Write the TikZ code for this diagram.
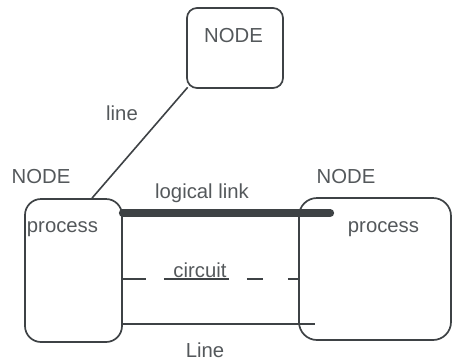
\documentclass[tikz,border=0pt]{standalone}
\usepackage{fontspec}
\setmainfont{Liberation Sans}
\usetikzlibrary{calc}
\definecolor{inkline}{HTML}{3E4245}
\definecolor{inktext}{HTML}{54585B}
\begin{document}
\begin{tikzpicture}[x=1pt,y=-1pt,
  every node/.style={font=\fontsize{20.3}{24}\selectfont},
  box/.style={draw=inkline,line width=1.7pt,inner sep=0pt,rectangle},
  lbl/.style={text=inktext,inner sep=0pt,anchor=base},
  wire/.style={draw=inkline,line width=1.6pt},
  thick link/.style={draw=inkline,line width=8pt,line cap=round}]
\useasboundingbox (0,0) rectangle (453,360);
% the three nodes
\node[box,rounded corners=10pt,minimum width=96pt,minimum height=80pt] (top) at (235,48) {};
\node[box,rounded corners=16pt,minimum width=97pt,minimum height=143pt] (left) at (73.5,270.5) {};
\node[box,rounded corners=18pt,minimum width=152pt,minimum height=142pt] (right) at (375,269) {};
% labels
\node[lbl] (ntop) at (233.5,42) {NODE};
\node[lbl] (nleft) at (41,183) {NODE};
\node[lbl] (nright) at (346,183) {NODE};
\node[lbl] (pleft) at (62.5,232) {process};
\node[lbl] (pright) at (383.5,232) {process};
\node[lbl] (lline) at (122,120) {line};
\node[lbl] (llink) at (202,198) {logical link};
\node[lbl] (lcirc) at (200,277) {circuit};
\node[lbl] (lLine) at (205,357) {Line};
% connectors
\coordinate (lt) at ($(left.north)+(18.5,0)$);
\coordinate (tb) at ($(top.south west)+(1.5,-1.5)$);
\draw[wire] (tb) -- (lt);
\coordinate (ls) at ($(left.east)+(0,-57.5)$);
\coordinate (le) at ($(right.west)+(32,-56)$);
\draw[thick link] (ls) -- (le);
\coordinate (cs) at ($(left.east)+(0,8.5)$);
\coordinate (ce) at ($(right.west)+(0,10)$);
\draw[wire,line width=1.2pt,dash pattern=on 23pt off 18pt on 65pt off 18pt on 16pt off 25pt on 12pt off 100pt] (cs) -- (ce);
\coordinate (bs) at ($(left.east)+(0,53.5)$);
\coordinate (be) at ($(right.west)+(17,55)$);
\draw[wire] (bs) -- (be);
\end{tikzpicture}
\end{document}
